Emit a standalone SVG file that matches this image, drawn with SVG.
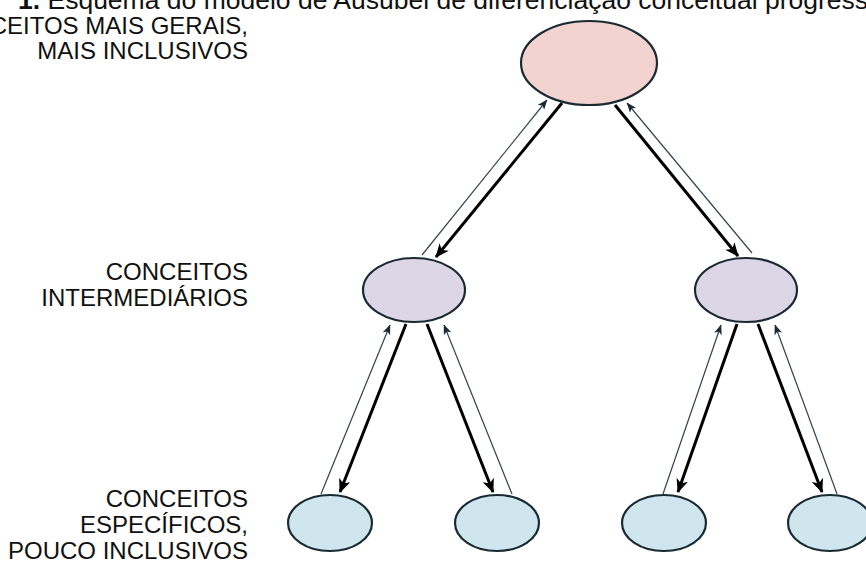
<svg xmlns="http://www.w3.org/2000/svg" width="866" height="564" viewBox="0 0 866 564">
<style>
  text { font-family: "Liberation Sans", Arial, sans-serif; font-size: 24px; fill: #111; }
  .lbl { text-anchor: end; }
  .ttl { font-size: 26.5px; }
  .node { stroke: #1a2a33; stroke-width: 2.2; }
  .top { fill: #f3d3cf; }
  .mid { fill: #ddd6e7; }
  .bot { fill: #cfe6ee; }
  .thick { stroke: #000; stroke-width: 3; fill: none; marker-end: url(#headThick); }
  .thin { stroke: #2f4450; stroke-width: 1.2; fill: none; marker-end: url(#headThin); }
</style>
<defs>
  <marker id="headThick" markerUnits="userSpaceOnUse" viewBox="0 0 14 12" refX="13" refY="6" markerWidth="14" markerHeight="12" orient="auto">
    <path d="M0,0 L14,6 L0,12 L4,6 z" fill="#000"/>
  </marker>
  <marker id="headThin" markerUnits="userSpaceOnUse" viewBox="0 0 10 8" refX="9.5" refY="4" markerWidth="10" markerHeight="8" orient="auto">
    <path d="M0,0 L10,4 L0,8 L2.5,4 z" fill="#1a2a33"/>
  </marker>
</defs>

<g id="title">
  <text class="ttl" x="18" y="9"><tspan font-weight="bold">1.</tspan> Esquema do modelo de Ausubel de diferenciação conceitual progress</text>
</g>

<g id="labels">
  <text class="lbl" x="248" y="34">CEITOS MAIS GERAIS,</text>
  <text class="lbl" x="248" y="59">MAIS INCLUSIVOS</text>
  <text class="lbl" x="248" y="280">CONCEITOS</text>
  <text class="lbl" x="248" y="306">INTERMEDIÁRIOS</text>
  <text class="lbl" x="248" y="507">CONCEITOS</text>
  <text class="lbl" x="248" y="533">ESPECÍFICOS,</text>
  <text class="lbl" x="248" y="559">POUCO INCLUSIVOS</text>
</g>

<g id="connectors">
  <line class="thick" x1="562" y1="103" x2="436" y2="257"/>
  <line class="thin" x1="422" y1="255" x2="547" y2="100"/>
  <line class="thick" x1="615" y1="105" x2="738" y2="256"/>
  <line class="thin" x1="752" y1="253" x2="627" y2="103"/>

  <line class="thick" x1="406" y1="324" x2="340" y2="492"/>
  <line class="thin" x1="321" y1="494" x2="390" y2="325"/>
  <line class="thick" x1="427" y1="324" x2="493" y2="492"/>
  <line class="thin" x1="512" y1="494" x2="444" y2="325"/>

  <line class="thick" x1="737" y1="324" x2="678" y2="492"/>
  <line class="thin" x1="663" y1="494" x2="721" y2="325"/>
  <line class="thick" x1="758" y1="324" x2="822" y2="492"/>
  <line class="thin" x1="837" y1="494" x2="775" y2="325"/>
</g>

<g id="node-top"><ellipse class="node top" cx="589" cy="63" rx="68" ry="42"/></g>
<g id="node-mid-left"><ellipse class="node mid" cx="414" cy="290" rx="51" ry="32"/></g>
<g id="node-mid-right"><ellipse class="node mid" cx="746" cy="290" rx="51" ry="32"/></g>
<g id="node-bot-1"><ellipse class="node bot" cx="330" cy="523" rx="42" ry="28"/></g>
<g id="node-bot-2"><ellipse class="node bot" cx="497" cy="523" rx="42" ry="28"/></g>
<g id="node-bot-3"><ellipse class="node bot" cx="664" cy="523" rx="42" ry="28"/></g>
<g id="node-bot-4"><ellipse class="node bot" cx="830" cy="523" rx="42" ry="28"/></g>
</svg>
